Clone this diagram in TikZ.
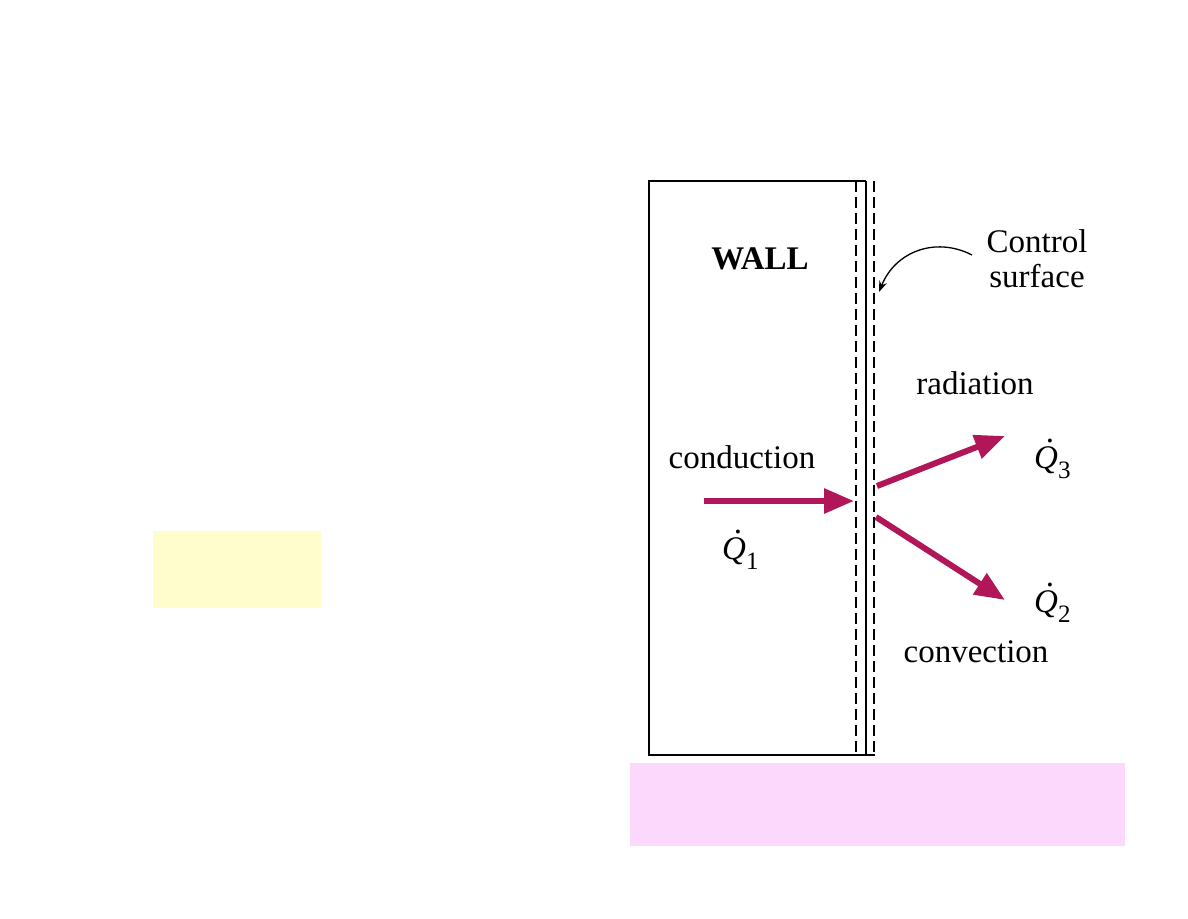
\documentclass[tikz,border=0pt]{standalone}
\usepackage{fontspec}
\setmainfont{Liberation Serif}
\usetikzlibrary{arrows.meta}
\definecolor{flow}{RGB}{176,22,88}
\definecolor{hlyellow}{RGB}{255,253,204}
\definecolor{hlpink}{RGB}{252,217,252}
\newcommand\qdotlbl[1]{\textit{Q}\llap{\raisebox{0.78em}{\normalfont.}\hspace{0.12em}}\raisebox{-0.33em}{\fontsize{25}{25}\selectfont #1}}
\begin{document}
\begin{tikzpicture}[x=1pt,y=-1pt,
  lbl/.style={inner sep=0pt, anchor=base, font=\fontsize{33}{38}\selectfont},
  qlbl/.style={inner sep=0pt, anchor=base west, font=\fontsize{33}{36}\selectfont},
  flowarrow/.style={draw=flow, line width=6pt, -{Triangle[length=30pt,width=24pt]}},
  csline/.style={line width=2pt, dash pattern=on 11pt off 5pt},
  wallline/.style={line width=2pt},
  pointer/.style={line width=1.3pt, -{Stealth[length=11pt,width=8pt]}}]
\useasboundingbox (0,0) rectangle (1188,918);
% highlight boxes
\fill[hlyellow] (153,531) rectangle (321,608);
\fill[hlpink] (630,763) rectangle (1125,846);
% wall
\draw[wallline] (866,181) -- (648.5,181) -- (648.5,755) -- (875,755);
\draw[wallline] (866,181) -- (866,755);
% control surface
\coordinate (csLtop) at (856,181);
\coordinate (csLbot) at (856,755);
\coordinate (csRtop) at (874,181);
\coordinate (csRbot) at (874,755);
\draw[csline] (csLtop) -- (csLbot);
\draw[csline] (csRtop) -- (csRbot);
% labels
\node[lbl] (wall) at (760,269) {\bfseries WALL};
\node[lbl] (ctrl1) at (1037,252) {Control};
\node[lbl] (ctrl2) at (1037,287) {surface};
\node[lbl] (rad) at (975,394) {radiation};
\node[lbl] (cond) at (742,468) {conduction};
\node[lbl] (conv) at (976,662) {convection};
\node[qlbl] (q1) at (722,559) {\qdotlbl{1}};
\node[qlbl] (q3) at (1034,468) {\qdotlbl{3}};
\node[qlbl] (q2) at (1034,612) {\qdotlbl{2}};
% pointer to control surface
\coordinate (ptrS) at (972,255);
\coordinate (ptrE) at (879,292);
\draw[pointer] (ptrS) .. controls (935,236) and (895,252) .. (ptrE);
% heat flow arrows
\coordinate (condS) at (704,501);
\coordinate (condE) at (854,501);
\coordinate (radS) at (877,486);
\coordinate (radE) at (1005,436);
\coordinate (convS) at (876,517);
\coordinate (convE) at (1005,600);
\draw[flowarrow] (condS) -- (condE);
\draw[flowarrow] (radS) -- (radE);
\draw[flowarrow] (convS) -- (convE);
\end{tikzpicture}
\end{document}
